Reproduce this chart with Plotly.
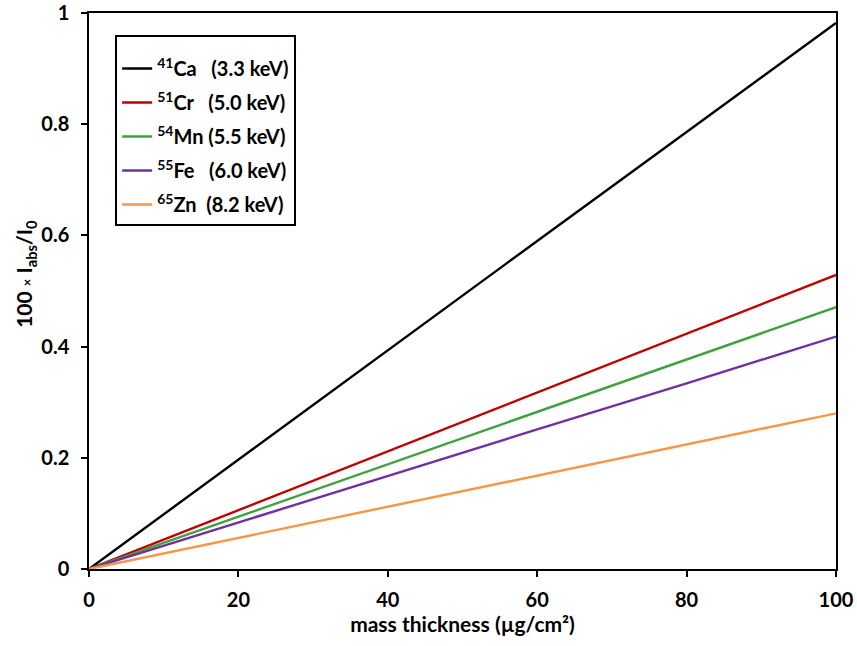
import plotly.graph_objects as go

mass_thickness = [0, 20, 40, 60, 80, 100]
ca41 = [0, 0.197, 0.393, 0.590, 0.786, 0.982]
cr51 = [0, 0.106, 0.212, 0.318, 0.424, 0.529]
mn54 = [0, 0.094, 0.189, 0.283, 0.377, 0.471]
fe55 = [0, 0.084, 0.167, 0.251, 0.334, 0.418]
zn65 = [0, 0.056, 0.112, 0.168, 0.224, 0.280]

NB = "\u00a0"
series = [
    ("<sup>41</sup>Ca" + NB * 3 + "(3.3 keV)", ca41, "#000000"),
    ("<sup>51</sup>Cr" + NB * 3 + "(5.0 keV)", cr51, "#C00000"),
    ("<sup>54</sup>Mn" + NB + "(5.5 keV)", mn54, "#3FA23F"),
    ("<sup>55</sup>Fe" + NB * 3 + "(6.0 keV)", fe55, "#7030A0"),
    ("<sup>65</sup>Zn" + NB * 2 + "(8.2 keV)", zn65, "#F79646"),
]

FONT = "Lato, 'Open Sans', sans-serif"

fig = go.Figure()
for i, (name, vals, col) in enumerate(series):
    fig.add_trace(go.Scatter(
        x=mass_thickness, y=vals, mode="lines", name=name,
        line=dict(color=col, width=2.4), legendgroup=f"g{i}",
    ))

axis_common = dict(
    showgrid=False, zeroline=False, showline=True, linecolor="black",
    linewidth=1.5, mirror=True, ticks="outside", ticklen=6, tickwidth=1.5,
    tickcolor="black", automargin=False, ticklabeloverflow="allow",
    tickfont=dict(family=FONT, size=20, color="black", weight="bold"),
)

fig.update_layout(
    width=857, height=646,
    margin=dict(l=89, r=21, t=13, b=77),
    paper_bgcolor="white", plot_bgcolor="white",
    font=dict(family=FONT, color="black"),
    xaxis=dict(range=[0, 100], dtick=20, ticklabelstandoff=6,
               title=dict(text="mass thickness (µg/cm²)", standoff=4,
                          font=dict(family=FONT, size=21, weight="bold")),
               **axis_common),
    yaxis=dict(range=[0, 1], dtick=0.2, tickformat="~g", ticklabelstandoff=8,
               **axis_common),
    legend=dict(
        x=0.035, y=0.96, xanchor="left", yanchor="top",
        bordercolor="black", borderwidth=2, bgcolor="white",
        font=dict(family=FONT, size=20, color="black", weight="bold"),
        title=dict(text=" ", font=dict(size=9)),
        traceorder="grouped", tracegroupgap=5,
        itemwidth=30,
    ),
    showlegend=True,
)

fig.add_annotation(
    text="100 <span style='font-size:13px'>×</span> I<sub>abs</sub>/I<sub>0</sub>",
    xref="paper", yref="paper", x=-0.085, y=0.53, xanchor="center", yanchor="middle",
    textangle=-90, showarrow=False,
    font=dict(family=FONT, size=21, color="black", weight="bold"),
)

fig.write_html("out.html")
